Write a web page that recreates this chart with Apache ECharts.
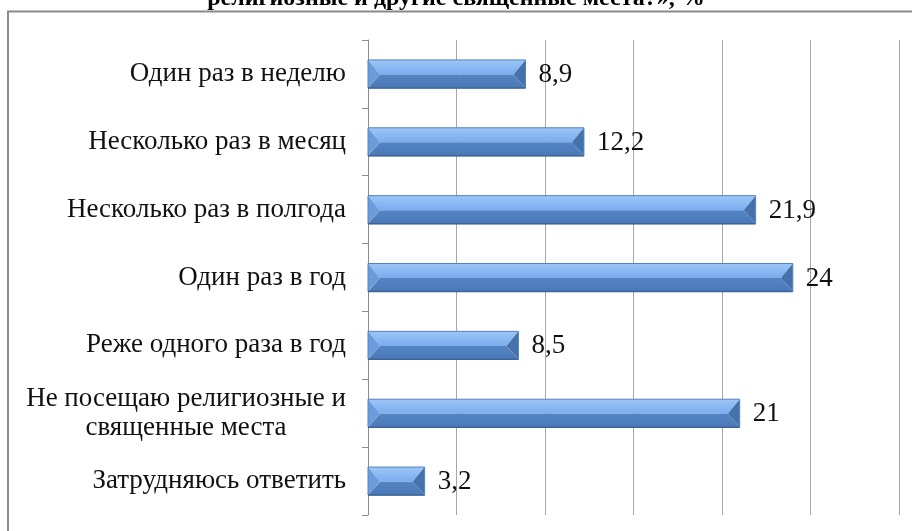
<!DOCTYPE html>
<html>
<head>
<meta charset="utf-8">
<script src="https://cdn.jsdelivr.net/npm/echarts@6/dist/echarts.min.js"></script>
<style>
  html, body { margin: 0; padding: 0; background: #fff; }
  #chart { width: 912px; height: 531px; }
</style>
</head>
<body>
<div id="chart"></div>
<script>
// Survey answers: how often respondents visit religious and sacred places, %
const categories = [
  'Один раз в неделю',
  'Несколько раз в месяц',
  'Несколько раз в полгода',
  'Один раз в год',
  'Реже одного раза в год',
  'Не посещаю религиозные и\nсвященные места',
  'Затрудняюсь ответить'
];
const shares = [8.9, 12.2, 21.9, 24, 8.5, 21, 3.2];
const titleText = 'религиозные и другие священные места?», %';

const SERIF = '"Liberation Serif", "Times New Roman", serif';
const LABEL_SIZE = 27;

// width of the widest line of a multi-line category, for centred lines
function measure(text, size, weight) {
  const ctx = document.createElement('canvas').getContext('2d');
  ctx.font = (weight || 'normal') + ' ' + size + 'px ' + SERIF;
  return ctx.measureText(text).width;
}
const lineWidth = Math.ceil(Math.max.apply(null,
  categories.filter(c => c.indexOf('\n') >= 0)
    .map(c => Math.max.apply(null, c.split('\n').map(s => measure(s, LABEL_SIZE))))
    .concat([0])));

const fmt = v => String(v).replace('.', ',');

// bevelled bar: four facets around a mid line, plus value label
function renderBevelBar(params, api) {
  const idx = api.value(1);
  const val = api.value(0);
  const start = api.coord([0, idx]);
  const end = api.coord([val, idx]);
  const h = 28;
  const x0 = start[0], x1 = end[0];
  const yt = end[1] - h / 2, yb = yt + h, ym = yt + h * 0.52;
  const b = Math.min(12, (x1 - x0) / 2);
  return {
    type: 'group',
    children: [
      { type: 'polygon', shape: { points: [[x0, yt], [x1, yt], [x1 - b, ym], [x0 + b, ym]] },
        style: { fill: new echarts.graphic.LinearGradient(0, 0, 0, 1, [
          { offset: 0, color: '#9cc6f8' }, { offset: 1, color: '#7aaced' }]) } },
      { type: 'polygon', shape: { points: [[x0, yb], [x0 + b, ym], [x1 - b, ym], [x1, yb]] },
        style: { fill: new echarts.graphic.LinearGradient(0, 0, 0, 1, [
          { offset: 0, color: '#5484c4' }, { offset: 1, color: '#4a79b6' }]) } },
      { type: 'polygon', shape: { points: [[x0, yt], [x0 + b, ym], [x0, yb]] },
        style: { fill: '#6a9cdd' } },
      { type: 'polygon', shape: { points: [[x1, yt], [x1, yb], [x1 - b, ym]] },
        style: { fill: '#4672ab' } },
      { type: 'rect', shape: { x: x0, y: yt, width: x1 - x0, height: h },
        style: { fill: null, stroke: '#5582bf', lineWidth: 1 } },
      { type: 'line', shape: { x1: x0, y1: yb, x2: x1, y2: yb },
        style: { stroke: '#3c6497', lineWidth: 1.5 } },
      { type: 'text', style: { x: x1 + 13, y: end[1] + 1, text: fmt(val),
        font: LABEL_SIZE + 'px ' + SERIF, fill: '#111', align: 'left', verticalAlign: 'middle' } }
    ]
  };
}

const chart = echarts.init(document.getElementById('chart'), null, { renderer: 'canvas' });
chart.setOption({
  animation: false,
  backgroundColor: '#fff',
  graphic: [
    { type: 'rect', shape: { x: 8, y: 11.5, width: 930, height: 540 },
      style: { fill: null, stroke: '#8a8a8a', lineWidth: 2 }, z: 0 },
    { type: 'text', left: 'center', top: -13,
      style: { text: titleText, font: 'bold 24px ' + SERIF, fill: '#000' } }
  ],
  grid: { left: 368, right: 13, top: 40, bottom: 16, containLabel: false },
  xAxis: {
    type: 'value', min: 0, max: 30, interval: 5,
    axisLabel: { show: false }, axisLine: { show: false }, axisTick: { show: false },
    splitLine: { show: true, lineStyle: { color: '#a6a6a6', width: 1 } }
  },
  yAxis: {
    type: 'category', data: categories, inverse: true,
    axisLine: { show: true, lineStyle: { color: '#8c8c8c', width: 1 } },
    axisTick: { show: true, length: 6, lineStyle: { color: '#8c8c8c' } },
    axisLabel: {
      margin: 22, color: '#111', fontFamily: SERIF, fontSize: LABEL_SIZE, lineHeight: 29,
      formatter: v => v.indexOf('\n') >= 0
        ? v.split('\n').map(s => '{m|' + s + '}').join('\n') : v,
      rich: { m: { width: lineWidth, align: 'center', fontFamily: SERIF,
        fontSize: LABEL_SIZE, lineHeight: 29, color: '#111' } }
    }
  },
  series: [{
    type: 'custom',
    renderItem: renderBevelBar,
    encode: { x: 0, y: 1 },
    data: shares.map((v, i) => [v, i]),
    z: 3
  }]
});
</script>
</body>
</html>
